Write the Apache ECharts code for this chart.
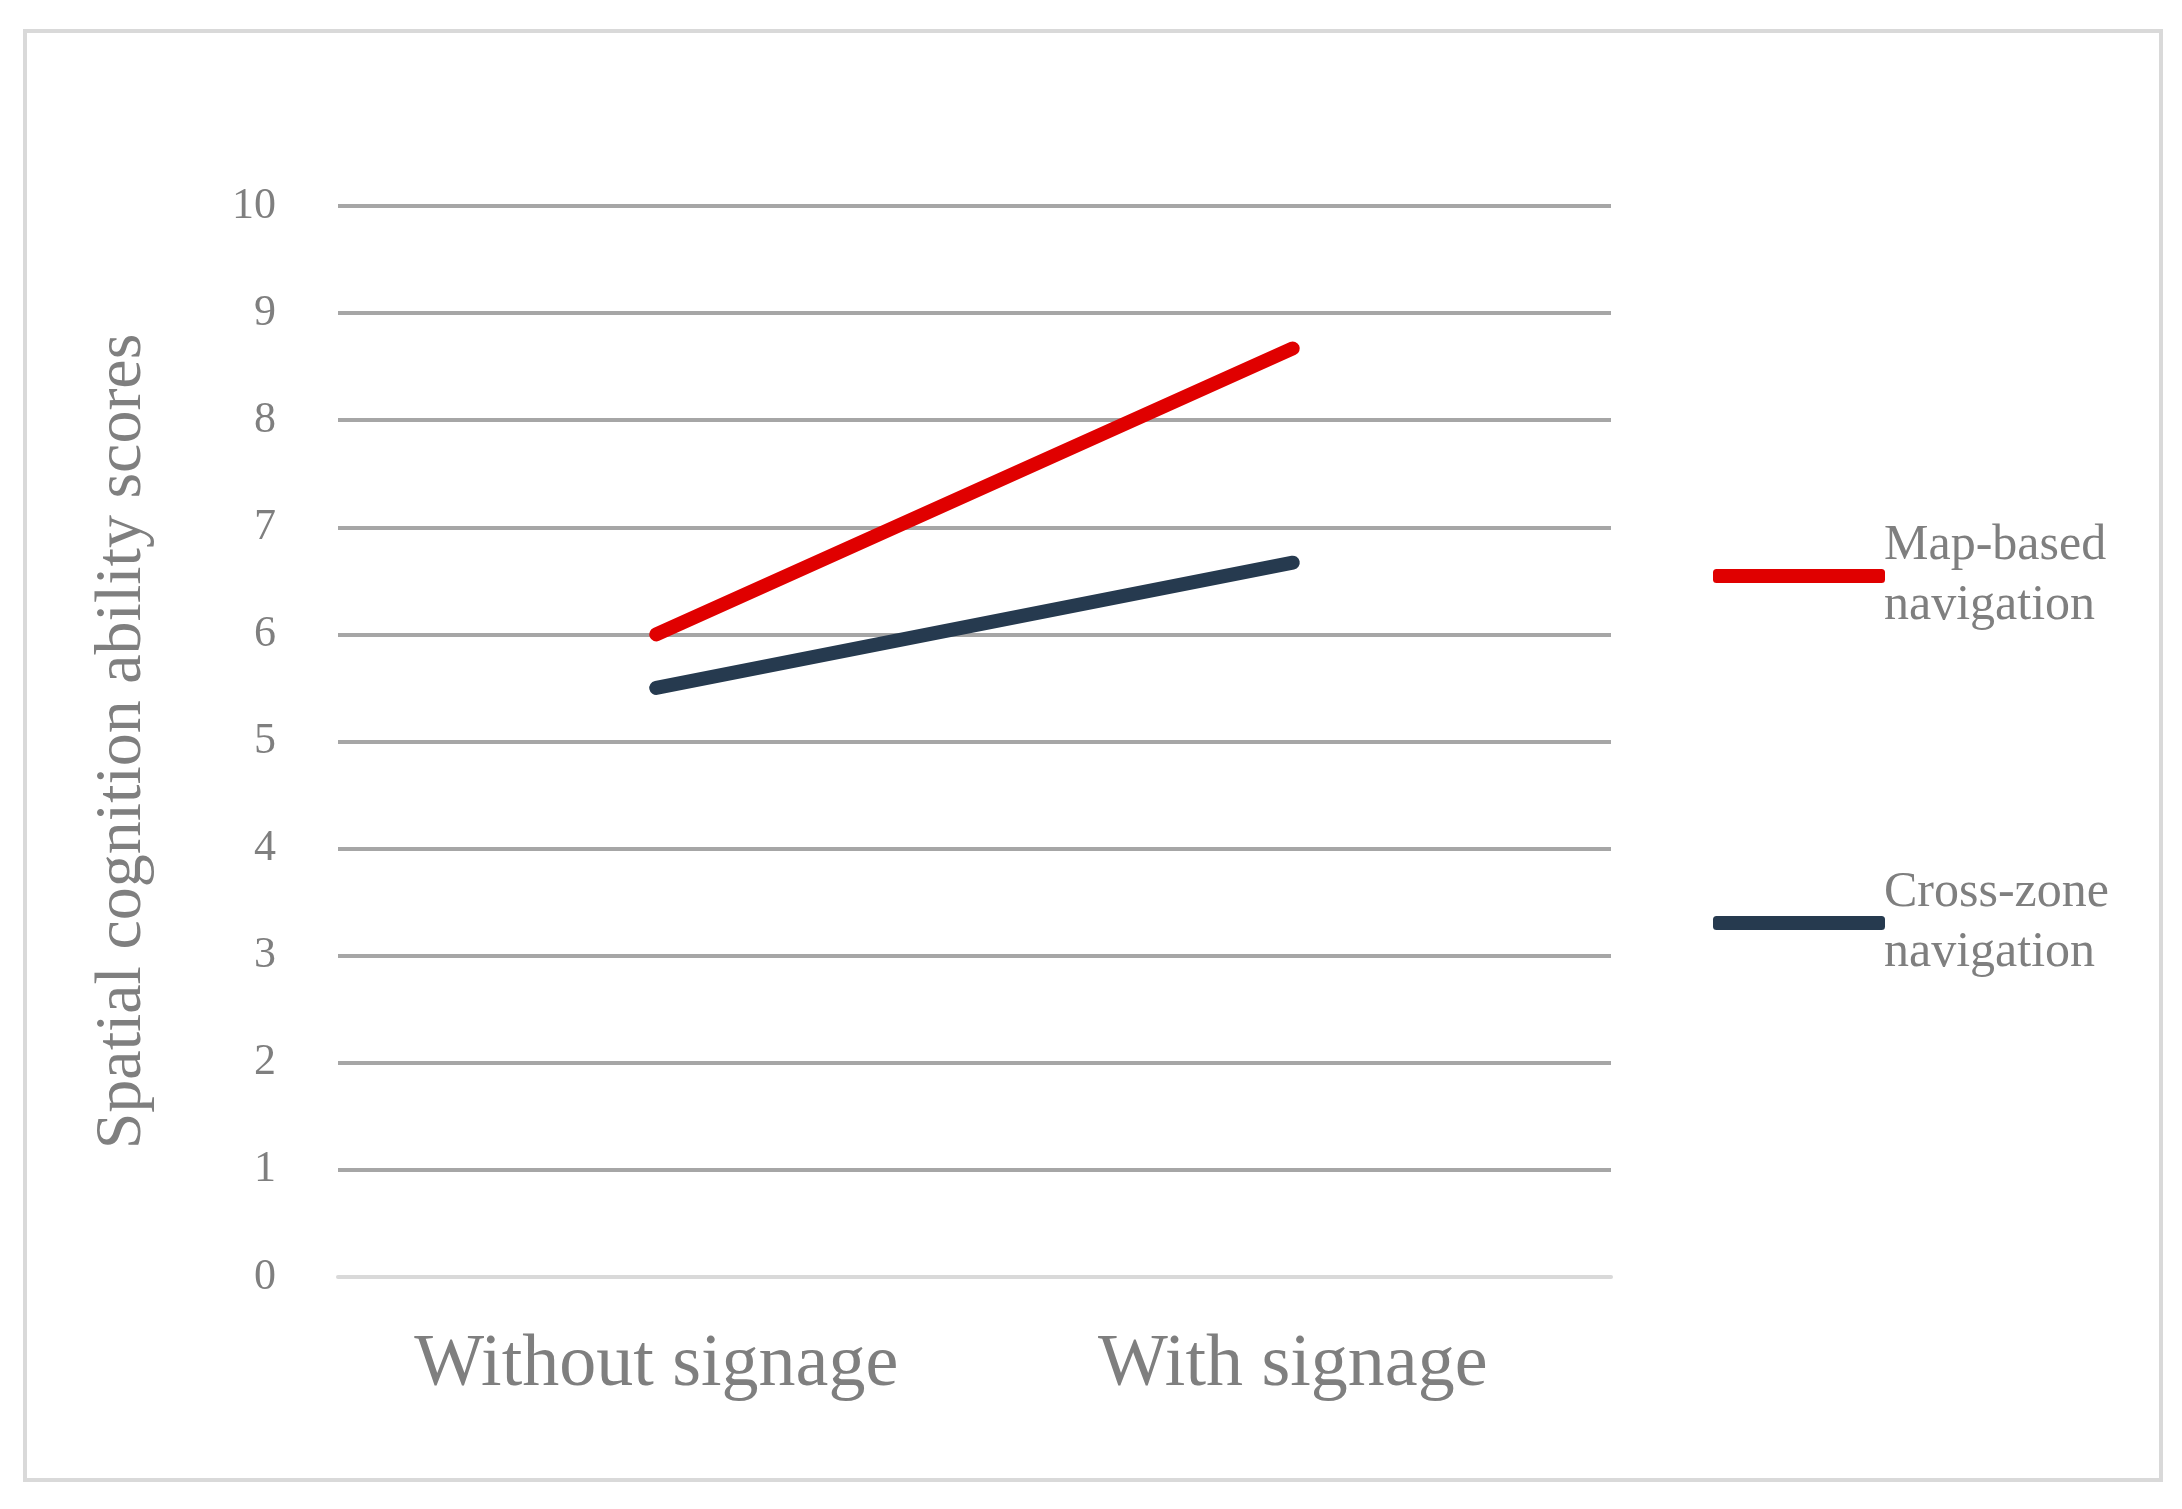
<!DOCTYPE html>
<html>
<head>
<meta charset="utf-8">
<script src="https://cdn.jsdelivr.net/npm/echarts@6/dist/echarts.min.js"></script>
<style>html,body{margin:0;background:#fff}#c{width:2182px;height:1509px}</style>
</head>
<body>
<div id="c"></div>
<script>
const categories = ['Without signage', 'With signage'];
const mapBased = [6.0, 8.67];
const crossZone = [5.5, 6.67];
const seriesNames = ['Map-based\nnavigation', 'Cross-zone\nnavigation'];
const font = 'Liberation Serif';

const chart = echarts.init(document.getElementById('c'));
chart.setOption({
  animation: false,
  graphic: [{
    type: 'rect',
    shape: { x: 25, y: 31, width: 2136, height: 1449 },
    style: { fill: 'none', stroke: '#d9d9d9', lineWidth: 4 }
  }],
  grid: { left: 338, right: 571, top: 206, bottom: 232 },
  legend: {
    orient: 'vertical', left: 1708, top: 481, itemWidth: 172, itemHeight: 14,
    itemGap: 167, icon: 'roundRect',
    textStyle: { fontFamily: font, fontSize: 50, color: '#7f7f7f', lineHeight: 60, padding: [60, 0, 0, -6] },
    data: seriesNames
  },
  xAxis: {
    type: 'category', data: categories,
    axisLine: { lineStyle: { color: '#d9d9d9', width: 4 } },
    axisTick: { show: false },
    axisLabel: { fontFamily: font, fontSize: 74, color: '#7f7f7f', margin: 52 }
  },
  yAxis: {
    type: 'value', min: 0, max: 10, interval: 1,
    name: 'Spatial cognition ability scores', nameLocation: 'middle', nameGap: 182,
    nameTextStyle: { fontFamily: font, fontSize: 66, color: '#7f7f7f' },
    axisLine: { show: false }, axisTick: { show: false },
    axisLabel: { fontFamily: font, fontSize: 44, color: '#7f7f7f', margin: 62 },
    splitLine: { lineStyle: { color: '#a6a6a6', width: 4 } }
  },
  series: [
    { name: seriesNames[0], type: 'line', data: mapBased, showSymbol: false,
      itemStyle: { color: '#e00000' }, lineStyle: { width: 14, cap: 'round', color: '#e00000' } },
    { name: seriesNames[1], type: 'line', data: crossZone, showSymbol: false,
      itemStyle: { color: '#263a4f' }, lineStyle: { width: 14, cap: 'round', color: '#263a4f' } }
  ]
});
</script>
</body>
</html>
